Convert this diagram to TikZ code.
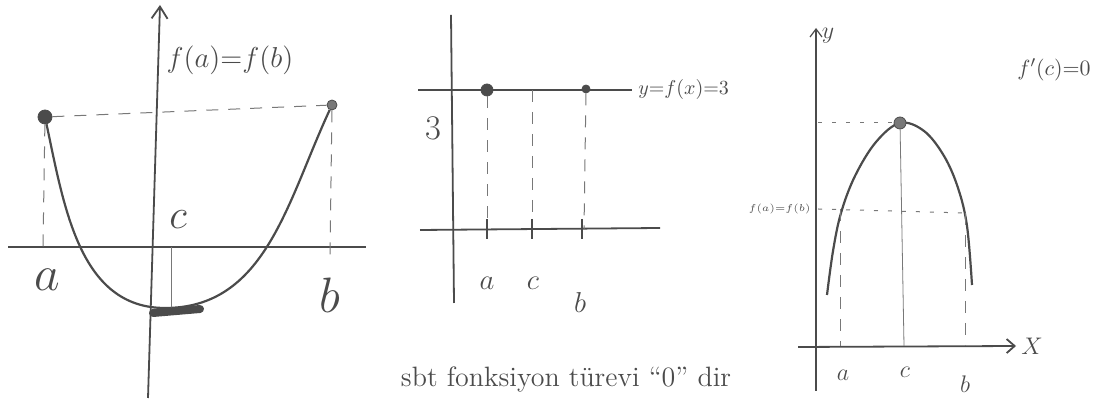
\documentclass[tikz,border=0pt]{standalone}
\usepackage{xcolor}
\usepackage{tikz}
\usetikzlibrary{arrows.meta}
\definecolor{pen}{RGB}{75,75,75}
\definecolor{lead}{RGB}{120,120,120}

\begin{document}
\begin{tikzpicture}[x=0.5pt,y=0.5pt,
  axis/.style={line width=0.9pt,pen},
  guide/.style={line width=0.5pt,lead,dash pattern=on 6pt off 5pt},
  dotline/.style={line width=0.5pt,lead,dash pattern=on 2pt off 5pt},
  curve/.style={line width=1.1pt,pen},
  dot/.style={circle,fill=pen,draw=pen,inner sep=0pt,minimum size=5pt},
  lbl/.style={pen,inner sep=1pt}]
  \useasboundingbox (0,0) rectangle (1096,416);

  % left panel
  \coordinate (ybot1) at (148,18);
  \coordinate (ytop1) at (160,411);
  \coordinate (xl1) at (8,169);
  \coordinate (xr1) at (366,169);
  \draw[axis,-{Straight Barb[length=6pt,width=8pt]}] (ybot1) -- (ytop1);
  \draw[axis] (xl1) -- (xr1);

  \node[dot,minimum size=7pt] (A1) at (45,299) {};
  \node[dot,fill=lead,minimum size=5pt] (B1) at (332,311) {};
  \draw[guide] (A1) -- (B1);
  \coordinate (A1f) at (43,169);
  \coordinate (B1f) at (330,160);
  \draw[guide] (A1) -- (A1f);
  \draw[guide] (B1) -- (B1f);

  \coordinate (min1) at (165,108);
  \draw[curve] (A1) to[out=-78,in=180] (min1) to[out=0,in=-115] (B1);
  \coordinate (c1top) at (171,169);
  \coordinate (c1bot) at (171,108);
  \draw[line width=0.5pt,lead] (c1top) -- (c1bot);
  \coordinate (blobL) at (153,103);
  \coordinate (blobR) at (200,107);
  \draw[line width=4pt,line cap=round,pen] (blobL) -- (blobR);

  \node[lbl,font=\fontsize{15}{17}\selectfont] (fab1) at (230,356) {$f(a){=}f(b)$};
  \node[lbl,font=\fontsize{26}{28}\selectfont] (la1) at (47,136) {$a$};
  \node[lbl,font=\fontsize{26}{28}\selectfont] (lb1) at (330,121) {$b$};
  \node[lbl,font=\fontsize{20}{22}\selectfont] (lc1) at (178,196) {$c$};

  % middle panel
  \coordinate (ybot2) at (454,113);
  \coordinate (ytop2) at (451,401);
  \coordinate (tl2) at (418,326);
  \coordinate (tr2) at (632,326);
  \coordinate (bl2) at (420,186);
  \coordinate (br2) at (660,188);
  \draw[axis] (ybot2) -- (ytop2);
  \draw[axis,line width=1.3pt] (tl2) -- (tr2);
  \draw[axis] (bl2) -- (br2);

  \node[dot,minimum size=6pt] (A2) at (487,326) {};
  \coordinate (C2) at (532,326);
  \node[dot,minimum size=4pt] (B2) at (586,327) {};
  \coordinate (A2f) at (487,186);
  \coordinate (C2f) at (532,187);
  \coordinate (B2f) at (584,187);
  \draw[guide] (A2) -- (A2f);
  \draw[guide] (C2) -- (C2f);
  \draw[guide] (B2) -- (B2f);
  \foreach \x/\n in {487/a,532/c,582/b}{
    \coordinate (tk\n up) at (\x,197);
    \coordinate (tk\n dn) at (\x,177);
    \draw[axis] (tk\n up) -- (tk\n dn);
  }

  \node[lbl,font=\fontsize{18}{20}\selectfont] (l3) at (433,288) {$3$};
  \node[lbl,anchor=west,font=\fontsize{10}{12}\selectfont] (lf2) at (636,326) {$y{=}f(x){=}3$};
  \node[lbl,font=\fontsize{14}{16}\selectfont] (la2) at (487,133) {$a$};
  \node[lbl,font=\fontsize{14}{16}\selectfont] (lc2) at (533,133) {$c$};
  \node[lbl,font=\fontsize{14}{16}\selectfont] (lb2) at (580,113) {$b$};
  \node[lbl,font=\fontsize{14}{16}\selectfont] (note) at (566,36) {sbt fonksiyon türevi “0” dir};

  % right panel
  \coordinate (ybot3) at (816,25);
  \coordinate (ytop3) at (816,388);
  \coordinate (xl3) at (798,69);
  \coordinate (xr3) at (1016,70);
  \draw[line width=0.6pt,pen,-{Straight Barb[length=4pt,width=6pt]}] (ybot3) -- (ytop3);
  \draw[axis,-{Straight Barb[length=4pt,width=7pt]}] (xl3) -- (xr3);
  \node[lbl,font=\fontsize{12}{14}\selectfont] (ly3) at (828,380) {$y$};
  \node[lbl,anchor=west,font=\fontsize{12}{14}\selectfont] (lx3) at (1019,70) {$X$};

  \draw[curve] plot[smooth,tension=0.6] coordinates {(827,121) (833,165) (841,203) (855,240) (876,274) (900,293) (924,285) (944,260) (958,228) (967,190) (972,131)};
  \node[dot,fill=lead,minimum size=6pt] (P3) at (900,293) {};

  \coordinate (Py3) at (818,293);
  \draw[dotline] (Py3) -- (P3);
  \coordinate (fy3) at (818,207);
  \coordinate (fa3) at (840,207);
  \coordinate (fb3) at (965,203);
  \draw[dotline] (fy3) -- (fb3);
  \coordinate (fa3f) at (840,70);
  \coordinate (Pc3f) at (904,70);
  \coordinate (fb3f) at (965,70);
  \draw[guide] (fa3) -- (fa3f);
  \draw[line width=0.4pt,lead] (P3) -- (Pc3f);
  \draw[guide] (fb3) -- (fb3f);

  \node[lbl,anchor=east,font=\fontsize{5}{6}\selectfont] (lfab3) at (813,207) {$f(a){=}f(b)$};
  \node[lbl,font=\fontsize{13}{15}\selectfont] (la3) at (843,41) {$a$};
  \node[lbl,font=\fontsize{13}{15}\selectfont] (lc3) at (905,44) {$c$};
  \node[lbl,font=\fontsize{13}{15}\selectfont] (lb3) at (965,32) {$b$};
  \node[lbl,anchor=east,font=\fontsize{11}{13}\selectfont] (ldc) at (1093,346) {$f'(c){=}0$};
\end{tikzpicture}
\end{document}
